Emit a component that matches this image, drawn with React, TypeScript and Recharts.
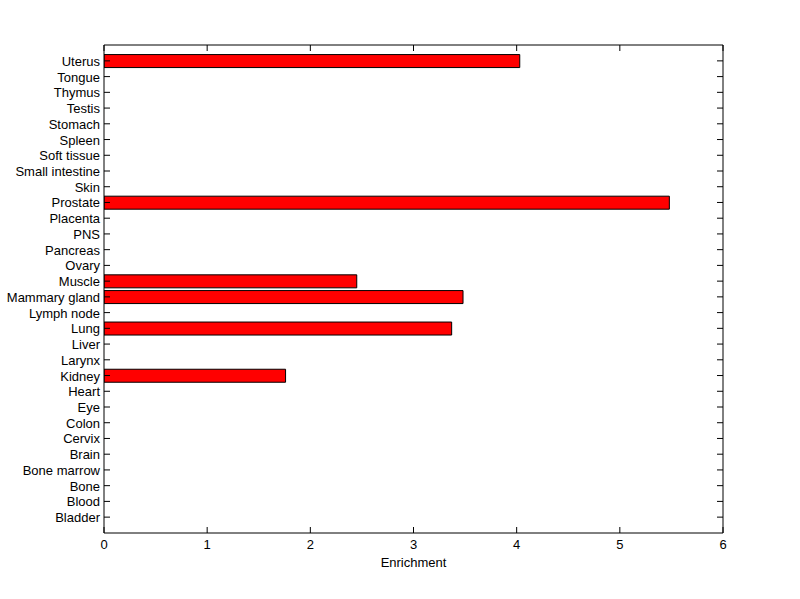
import { Bar, ComposedChart, Line, XAxis, YAxis } from "recharts";

const tissues = [
  "Bladder", "Blood", "Bone", "Bone marrow", "Brain", "Cervix", "Colon", "Eye", "Heart", "Kidney",
  "Larynx", "Liver", "Lung", "Lymph node", "Mammary gland", "Muscle", "Ovary", "Pancreas", "PNS", "Placenta",
  "Prostate", "Skin", "Small intestine", "Soft tissue", "Spleen", "Stomach", "Testis", "Thymus", "Tongue", "Uterus",
];
const enrichment = [
  0, 0, 0, 0, 0, 0, 0, 0, 0, 1.76,
  0, 0, 3.37, 0, 3.48, 2.45, 0, 0, 0, 0,
  5.48, 0, 0, 0, 0, 0, 0, 0, 0, 4.03,
];
const xTicks = [0, 1, 2, 3, 4, 5, 6];

const data = tissues.map((name, i) => ({ name, value: enrichment[i] }));

const FONT = "'Liberation Sans', Arial, Helvetica, sans-serif";
const FS = 13;
const TICK = 6;

function BottomTick({ x, y, payload }: any) {
  return (
    <g>
      <line x1={x} y1={y} x2={x} y2={y - TICK} stroke="#000" />
      <text x={x} y={y + 16} textAnchor="middle" fontSize={FS} fontFamily={FONT} fill="#000">{payload.value}</text>
    </g>
  );
}
function TopTick({ x, y }: any) {
  return <line x1={x} y1={y} x2={x} y2={y + TICK} stroke="#000" />;
}
function LeftTick({ x, y, payload }: any) {
  return (
    <g>
      <line x1={x} y1={y} x2={x + TICK} y2={y} stroke="#000" />
      <text x={x - 4} y={y + 5} textAnchor="end" fontSize={FS} fontFamily={FONT} fill="#000">{payload.value}</text>
    </g>
  );
}
function RightTick({ x, y }: any) {
  return <line x1={x} y1={y} x2={x - TICK} y2={y} stroke="#000" />;
}

export default function App() {
  return (
    <div style={{ position: "absolute", left: 0, top: 0, background: "#fff" }}>
      <ComposedChart
        width={800}
        height={599}
        data={data}
        layout="vertical"
        barCategoryGap="10%"
        margin={{ top: 44, right: 76, bottom: 26, left: 4 }}
      >
        <XAxis
          xAxisId="bottom"
          type="number"
          domain={[0, 6]}
          ticks={xTicks}
          allowDataOverflow
          height={40}
          tickSize={0}
          tickMargin={0}
          tick={<BottomTick />}
          axisLine={{ stroke: "#000" }}
          label={{ value: "Enrichment", position: "insideBottom", offset: 6, fontSize: FS, fontFamily: FONT, fill: "#000" }}
        />
        <XAxis
          xAxisId="top"
          orientation="top"
          type="number"
          domain={[0, 6]}
          ticks={xTicks}
          allowDataOverflow
          height={1}
          tickSize={0}
          tickMargin={0}
          tick={<TopTick />}
          axisLine={{ stroke: "#000" }}
        />
        <YAxis
          yAxisId="left"
          type="category"
          dataKey="name"
          reversed
          interval={0}
          width={100}
          padding={{ top: 8, bottom: 8 }}
          tickSize={0}
          tickMargin={0}
          tick={<LeftTick />}
          axisLine={{ stroke: "#000" }}
        />
        <YAxis
          yAxisId="right"
          orientation="right"
          type="category"
          dataKey="name"
          reversed
          interval={0}
          width={1}
          padding={{ top: 8, bottom: 8 }}
          tickSize={0}
          tickMargin={0}
          tick={<RightTick />}
          axisLine={{ stroke: "#000" }}
        />
        <Bar
          xAxisId="bottom"
          yAxisId="left"
          dataKey="value"
          fill="#ff0000"
          stroke="#000"
          strokeWidth={1}
          isAnimationActive={false}
        />
        <Line
          xAxisId="top"
          yAxisId="right"
          dataKey="value"
          stroke="none"
          dot={false}
          activeDot={false}
          legendType="none"
          isAnimationActive={false}
        />
      </ComposedChart>
    </div>
  );
}
